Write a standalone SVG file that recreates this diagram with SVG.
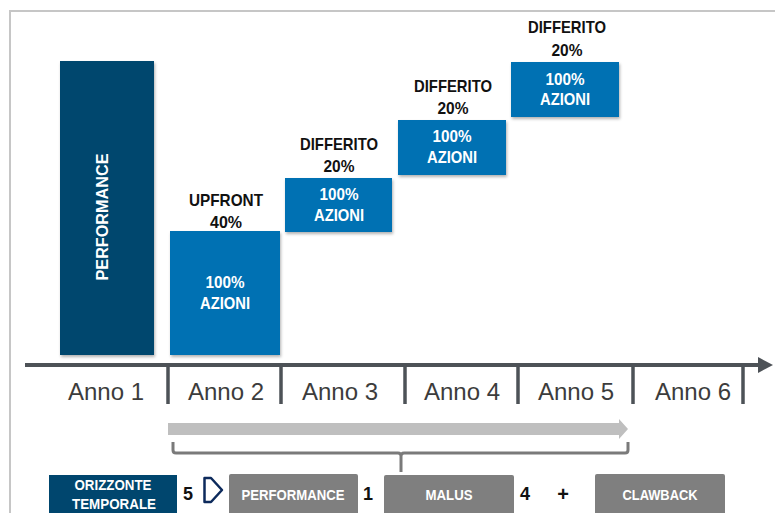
<svg xmlns="http://www.w3.org/2000/svg" width="775" height="513" viewBox="0 0 775 513">
  <style>
    .navy { fill: #00466e; }
    .blue { fill: #0071b3; }
    .gray { fill: #7f7f7f; }
    .wt { fill: #ffffff; font-family: "Liberation Sans", Arial, sans-serif; font-weight: bold; text-anchor: middle; }
    .bk { fill: #111111; font-family: "Liberation Sans", Arial, sans-serif; font-weight: bold; text-anchor: middle; }
    .yr { fill: #3c3c3c; font-family: "Liberation Sans", Arial, sans-serif; font-size: 24px; text-anchor: middle; }
    .tick { stroke: #4d5257; stroke-width: 3.5; fill: none; }
  </style>
  <defs>
    <filter id="sh" x="-10%" y="-10%" width="130%" height="130%">
      <feDropShadow dx="1" dy="2" stdDeviation="1.5" flood-color="#000" flood-opacity="0.3"/>
    </filter>
  </defs>
  <rect x="0" y="0" width="775" height="513" fill="#ffffff"/>
  <!-- frame -->
  <path d="M10,513 V11 H775" fill="none" stroke="#c6c6c6" stroke-width="2"/>

  <g id="connectors">
    <!-- axis -->
    <line x1="25" y1="365" x2="760" y2="365" stroke="#4d5257" stroke-width="4"/>
    <polygon points="758,357 773,365 758,373" fill="#4d5257"/>
    <line class="tick" x1="168" y1="365" x2="168" y2="404"/>
    <line class="tick" x1="281" y1="365" x2="281" y2="404"/>
    <line class="tick" x1="405" y1="365" x2="405" y2="404"/>
    <line class="tick" x1="518" y1="365" x2="518" y2="404"/>
    <line class="tick" x1="633" y1="365" x2="633" y2="404"/>
    <line class="tick" x1="743" y1="365" x2="743" y2="404"/>
    <!-- progress arrow -->
    <polygon points="168,423 619,423 619,419 628,429 619,439 619,435 168,435" fill="#bfbfbf"/>
    <!-- bracket -->
    <path d="M173,442 V450 Q173,453 176,453 H398 Q401,453 401,456 V472 M401,456 Q401,453 404,453 H625 Q628,453 628,450 V442" fill="none" stroke="#7a7a7a" stroke-width="3"/>
  </g>

  <g id="anni">
    <text class="yr" x="106" y="400">Anno 1</text>
    <text class="yr" x="226" y="400">Anno 2</text>
    <text class="yr" x="340" y="400">Anno 3</text>
    <text class="yr" x="462" y="400">Anno 4</text>
    <text class="yr" x="576" y="400">Anno 5</text>
    <text class="yr" x="693" y="400">Anno 6</text>
  </g>

  <g id="performance-main">
    <rect class="navy" x="60" y="61" width="94" height="294" filter="url(#sh)"/>
    <text class="wt" font-size="17" transform="translate(108,217) rotate(-90)" textLength="127" lengthAdjust="spacingAndGlyphs">PERFORMANCE</text>
  </g>

  <g id="upfront">
    <text class="bk" font-size="17" x="226" y="206" textLength="74" lengthAdjust="spacingAndGlyphs">UPFRONT</text>
    <text class="bk" font-size="17" x="226" y="228" textLength="32" lengthAdjust="spacingAndGlyphs">40%</text>
    <rect class="blue" x="170" y="231" width="110" height="124" filter="url(#sh)"/>
    <text class="wt" font-size="16" x="225" y="288" textLength="39" lengthAdjust="spacingAndGlyphs">100%</text>
    <text class="wt" font-size="16" x="225" y="309" textLength="50" lengthAdjust="spacingAndGlyphs">AZIONI</text>
  </g>

  <g id="differito-1">
    <text class="bk" font-size="17" x="339" y="150" textLength="78" lengthAdjust="spacingAndGlyphs">DIFFERITO</text>
    <text class="bk" font-size="17" x="339" y="172" textLength="31" lengthAdjust="spacingAndGlyphs">20%</text>
    <rect class="blue" x="285" y="178" width="107" height="54" filter="url(#sh)"/>
    <text class="wt" font-size="16" x="339" y="200" textLength="39" lengthAdjust="spacingAndGlyphs">100%</text>
    <text class="wt" font-size="16" x="339" y="221" textLength="50" lengthAdjust="spacingAndGlyphs">AZIONI</text>
  </g>

  <g id="differito-2">
    <text class="bk" font-size="17" x="453" y="92" textLength="78" lengthAdjust="spacingAndGlyphs">DIFFERITO</text>
    <text class="bk" font-size="17" x="453" y="114" textLength="31" lengthAdjust="spacingAndGlyphs">20%</text>
    <rect class="blue" x="398" y="120" width="108" height="55" filter="url(#sh)"/>
    <text class="wt" font-size="16" x="452" y="142" textLength="39" lengthAdjust="spacingAndGlyphs">100%</text>
    <text class="wt" font-size="16" x="452" y="163" textLength="50" lengthAdjust="spacingAndGlyphs">AZIONI</text>
  </g>

  <g id="differito-3">
    <text class="bk" font-size="17" x="567" y="33" textLength="78" lengthAdjust="spacingAndGlyphs">DIFFERITO</text>
    <text class="bk" font-size="17" x="567" y="56" textLength="31" lengthAdjust="spacingAndGlyphs">20%</text>
    <rect class="blue" x="511" y="62" width="108" height="55" filter="url(#sh)"/>
    <text class="wt" font-size="16" x="565" y="85" textLength="39" lengthAdjust="spacingAndGlyphs">100%</text>
    <text class="wt" font-size="16" x="565" y="105" textLength="50" lengthAdjust="spacingAndGlyphs">AZIONI</text>
  </g>

  <g id="orizzonte">
    <rect class="navy" x="49" y="475" width="128" height="40"/>
    <text class="wt" font-size="14.5" x="113" y="490" textLength="77" lengthAdjust="spacingAndGlyphs">ORIZZONTE</text>
    <text class="wt" font-size="14.5" x="114" y="509" textLength="84" lengthAdjust="spacingAndGlyphs">TEMPORALE</text>
  </g>
  <text class="bk" font-size="18" x="188" y="500">5</text>

  <g id="chevron">
    <path d="M204.5,478 H211 L222,490 L211,502 H204.5 Z" fill="none" stroke="#0d2a5c" stroke-width="2.5" stroke-linejoin="round"/>
  </g>

  <g id="performance-box">
    <rect class="gray" x="229" y="474" width="129" height="42" rx="2"/>
    <text class="wt" font-size="14.5" x="293" y="500" textLength="103" lengthAdjust="spacingAndGlyphs">PERFORMANCE</text>
  </g>
  <text class="bk" font-size="18" x="368" y="500">1</text>

  <g id="malus">
    <rect class="gray" x="384" y="475" width="130" height="41" rx="2"/>
    <text class="wt" font-size="14.5" x="449" y="500" textLength="47" lengthAdjust="spacingAndGlyphs">MALUS</text>
  </g>
  <text class="bk" font-size="18" x="525" y="500">4</text>
  <text class="bk" font-size="20" x="563" y="501">+</text>

  <g id="clawback">
    <rect class="gray" x="595" y="474" width="130" height="42" rx="2"/>
    <text class="wt" font-size="14.5" x="660" y="500" textLength="75" lengthAdjust="spacingAndGlyphs">CLAWBACK</text>
  </g>
</svg>
